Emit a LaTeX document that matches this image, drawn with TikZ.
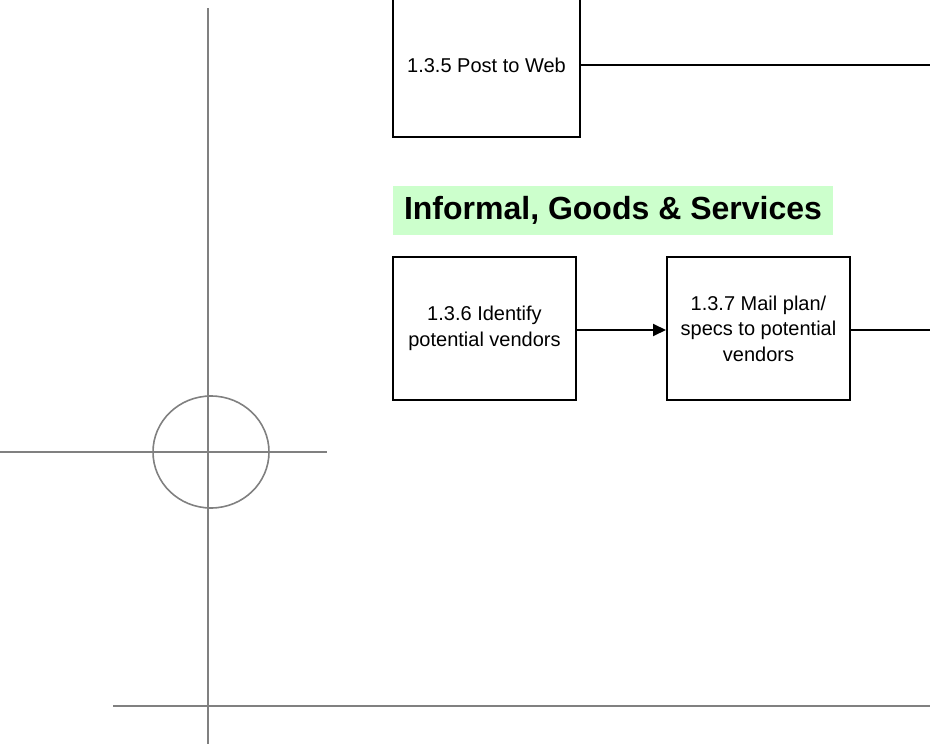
\documentclass[tikz,border=0pt]{standalone}
\usepackage{fontspec}
\setmainfont{Liberation Sans}
\usetikzlibrary{arrows.meta}
\definecolor{guide}{HTML}{808080}
\definecolor{labelgreen}{HTML}{CCFFCC}
\tikzset{
  guideline/.style={draw=guide,line width=1.6pt},
  stepbox/.style={draw=black,line width=2pt,rectangle,inner sep=0pt,align=center,
    font=\fontsize{20}{25.5}\selectfont},
  flow/.style={draw=black,line width=2pt},
  flowarrow/.style={flow,-{Triangle[length=13pt,width=12pt]}},
  banner/.style={fill=labelgreen,inner sep=0pt,minimum width=440pt,minimum height=49pt,
    font=\bfseries\fontsize{32}{36}\selectfont}
}
\begin{document}
\begin{tikzpicture}[x=1pt,y=-1pt]
\useasboundingbox (0,0) rectangle (930,744);
% guide marks
\draw[guideline] (208,8) -- (208,744);
\draw[guideline] (0,452) -- (327,452);
\draw[guideline] (113,706) -- (930,706);
\draw[guideline] (211,452) ellipse [x radius=58pt, y radius=56pt];
% boxes
\node[stepbox,minimum width=187pt,minimum height=144pt] (b135) at (486.5,65) {1.3.5 Post to Web};
\node[banner] (title) at (613,210.5) {Informal, Goods \& Services};
\node[stepbox,minimum width=183pt,minimum height=143pt] (b136) at (484.5,328.5) {1.3.6 Identify\\potential vendors};
\node[stepbox,minimum width=183pt,minimum height=143pt] (b137) at (758.5,328.5) {1.3.7 Mail plan/\\specs to potential\\vendors};
% connectors
\coordinate (e135) at (930,65);
\coordinate (e137) at (930,330);
\draw[flow] (b135.east) -- (e135);
\draw[flowarrow] (b136.east |- 0,330) -- (b137.west |- 0,330);
\draw[flow] (b137.east |- 0,330) -- (e137);
\end{tikzpicture}
\end{document}
